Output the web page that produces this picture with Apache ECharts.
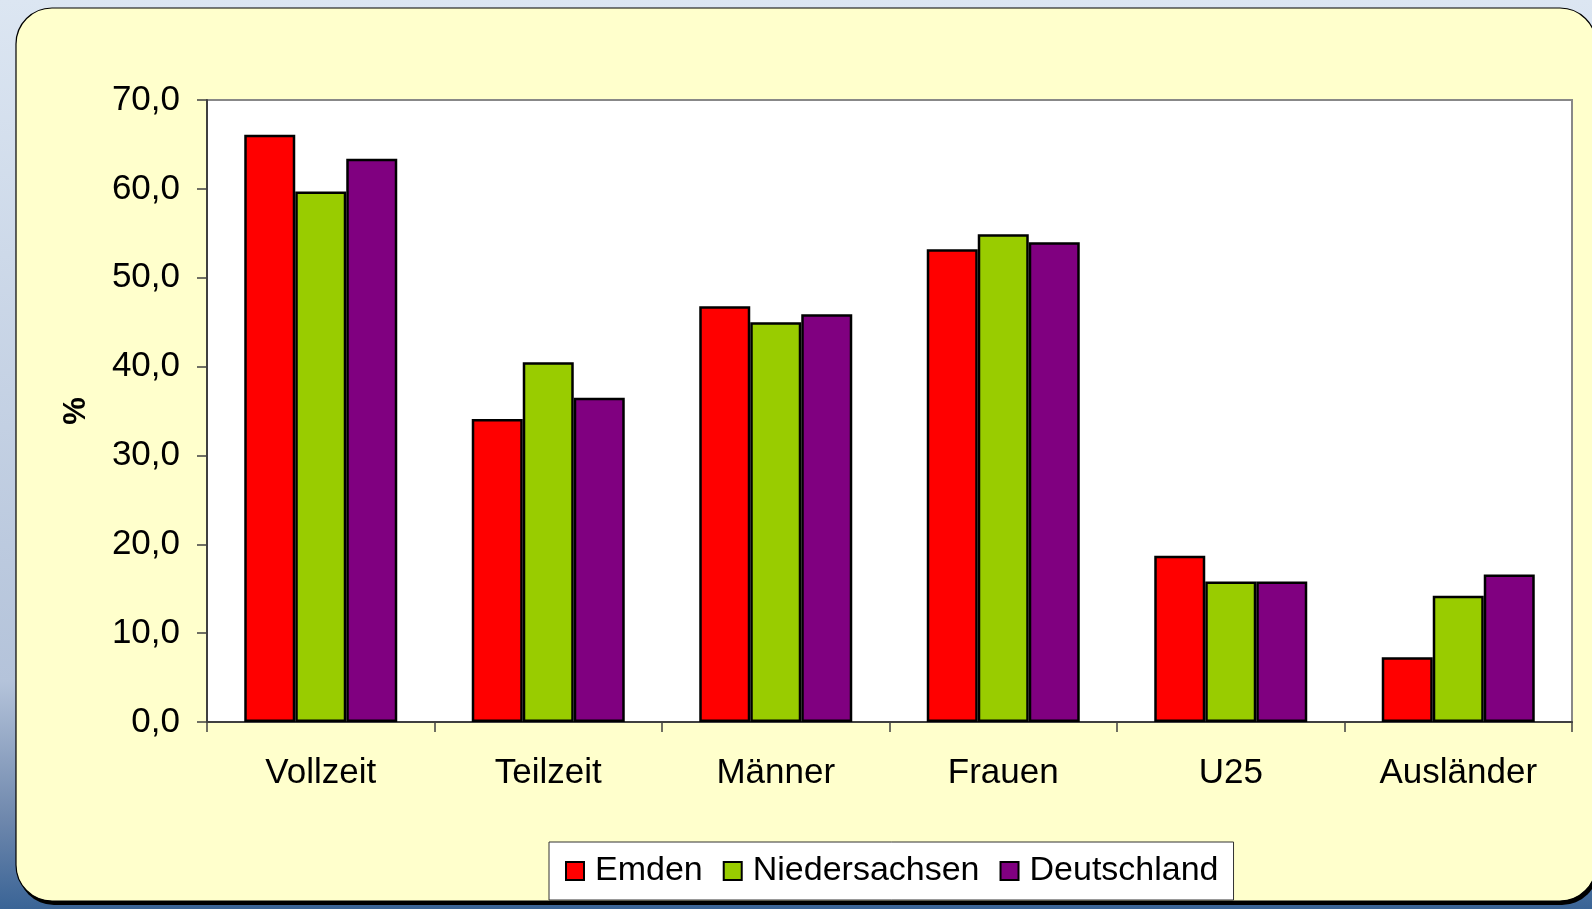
<!DOCTYPE html>
<html>
<head>
<meta charset="utf-8">
<style>
  html, body { margin: 0; padding: 0; }
  #chart { width: 1592px; height: 909px; }
</style>
<script src="https://cdn.jsdelivr.net/npm/echarts@6/dist/echarts.min.js"></script>
</head>
<body>
<div id="chart"></div>
<script>
var categories = ['Vollzeit', 'Teilzeit', 'Männer', 'Frauen', 'U25', 'Ausländer'];
var emden = [66.1, 34.1, 46.8, 53.2, 18.7, 7.3];
var niedersachsen = [59.7, 40.5, 45.0, 54.9, 15.8, 14.2];
var deutschland = [63.4, 36.5, 45.9, 54.0, 15.8, 16.6];

var font = 'Liberation Sans, Arial, sans-serif';

var chart = echarts.init(document.getElementById('chart'));

function barSeries(name, data, color) {
  return {
    name: name,
    type: 'bar',
    data: data,
    barWidth: 51,
    barGap: '0%',
    itemStyle: {
      color: color,
      borderColor: '#000',
      borderWidth: 2.5
    }
  };
}

chart.setOption({
  // blue backdrop behind the rounded panel
  backgroundColor: {
    type: 'linear', x: 0, y: 0, x2: 0, y2: 1,
    colorStops: [
      { offset: 0, color: '#dce6f2' },
      { offset: 0.75, color: '#b4c3da' },
      { offset: 0.9, color: '#6f88ad' },
      { offset: 1, color: '#3a6496' }
    ]
  },
  animation: false,
  graphic: [
    // hard shadow under the panel
    {
      type: 'rect',
      z: -11,
      shape: { x: 18, y: 12, width: 1580, height: 893, r: 36 },
      style: { fill: '#000' }
    },
    {
      type: 'rect',
      z: -10,
      shape: { x: 16, y: 8, width: 1580, height: 893, r: 36 },
      style: { fill: '#ffffcc', stroke: '#000', lineWidth: 1.2 }
    }
  ],
  grid: {
    left: 207,
    right: 20,
    top: 100,
    bottom: 187,
    show: true,
    backgroundColor: '#fff',
    borderColor: '#888',
    borderWidth: 2
  },
  legend: {
    left: 549,
    top: 842,
    padding: [12, 15, 12, 16],
    itemGap: 20,
    itemWidth: 18,
    itemHeight: 18,
    icon: 'rect',
    backgroundColor: '#fff',
    borderColor: '#333',
    borderWidth: 1,
    textStyle: { fontFamily: font, fontSize: 34, color: '#000', padding: [0, 0, 0, 6] },
    data: ['Emden', 'Niedersachsen', 'Deutschland']
  },
  xAxis: {
    type: 'category',
    data: categories,
    axisLine: { lineStyle: { color: '#404040', width: 2 } },
    axisTick: { show: true, length: 10, lineStyle: { color: '#404040', width: 1.5 } },
    axisLabel: { fontFamily: font, fontSize: 35, color: '#000', margin: 34 }
  },
  yAxis: {
    type: 'value',
    min: 0,
    max: 70,
    interval: 10,
    name: '%',
    nameLocation: 'middle',
    nameRotate: 90,
    nameGap: 115,
    nameTextStyle: { fontFamily: font, fontSize: 31, fontWeight: 'bold', color: '#000' },
    splitLine: { show: false },
    axisLine: { show: true, lineStyle: { color: '#404040', width: 2 } },
    axisTick: { show: true, length: 10, lineStyle: { color: '#404040', width: 1.5 } },
    axisLabel: {
      fontFamily: font, fontSize: 35, color: '#000', margin: 27,
      formatter: function (v) { return v.toFixed(1).replace('.', ','); }
    }
  },
  series: [
    barSeries('Emden', emden, '#ff0000'),
    barSeries('Niedersachsen', niedersachsen, '#99cc00'),
    barSeries('Deutschland', deutschland, '#800080')
  ]
});
</script>
</body>
</html>
